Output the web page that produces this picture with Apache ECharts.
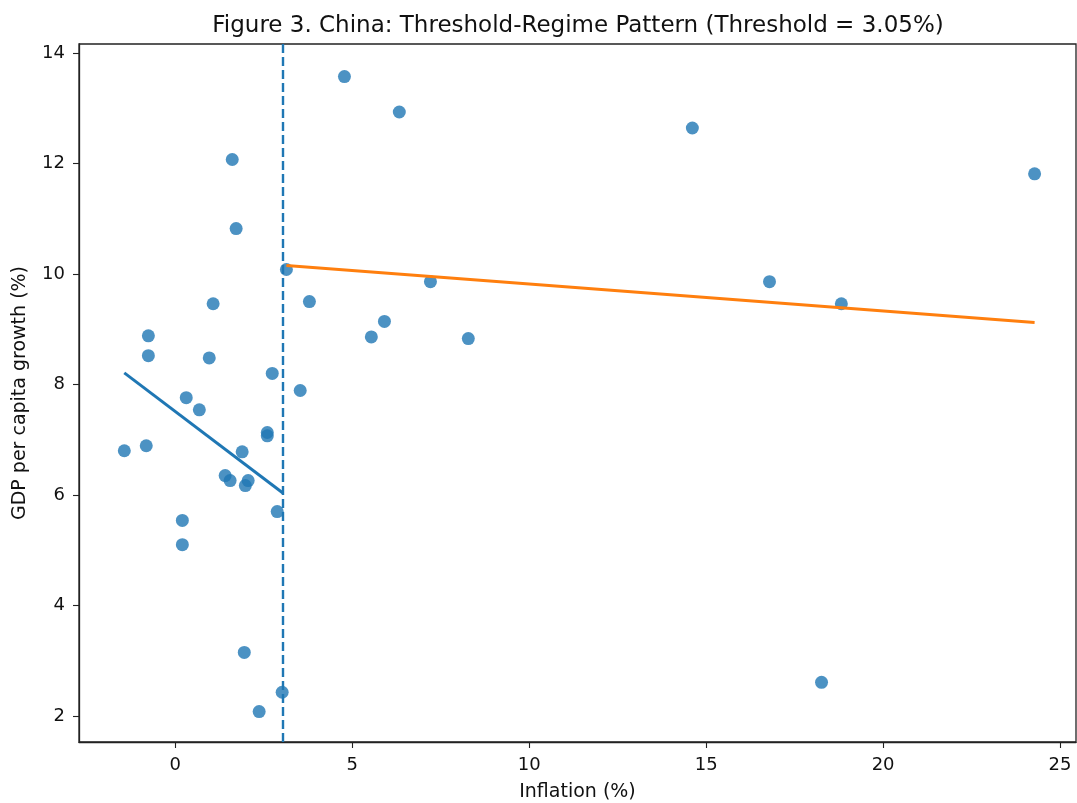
<!DOCTYPE html>
<html>
<head>
<meta charset="utf-8">
<script src="https://cdn.jsdelivr.net/npm/echarts@6/dist/echarts.min.js"></script>
<style>html,body{margin:0;padding:0;background:#fff;}#c{width:1077px;height:803px;}</style>
</head>
<body>
<div id="c"></div>
<script>
const inflation = [-1.44,-0.82,-0.76,-0.76,0.20,0.20,0.31,0.68,0.96,1.07,1.41,1.55,1.61,1.72,1.89,1.98,2.06,1.95,2.37,2.60,2.60,2.74,2.88,3.02,3.14,3.53,3.79,4.78,5.54,5.91,6.33,7.21,8.28,14.61,16.79,18.26,18.82,24.28];
const growth = [6.80,6.89,8.88,8.52,5.10,5.54,7.76,7.54,8.48,9.46,6.35,6.26,12.07,10.82,6.78,6.17,6.26,3.15,2.08,7.13,7.07,8.20,5.70,2.43,10.08,7.89,9.50,13.57,8.86,9.14,12.93,9.86,8.83,12.64,9.86,2.61,9.46,11.81];
const lowFitX = [-1.44, 3.05];
const lowFitY = [8.21, 6.03];
const highFitX = [3.14, 24.28];
const highFitY = [10.15, 9.12];
const threshold = 3.05;
const xTicks = [0,5,10,15,20,25];
const yTicks = [2,4,6,8,10,12,14];
const titleText = 'Figure 3. China: Threshold-Regime Pattern (Threshold = 3.05%)';

const font = 'DejaVu Sans';
const chart = echarts.init(document.getElementById('c'), null, {renderer:'canvas'});
const axisCommon = {
  axisLine:{show:true, onZero:false, lineStyle:{color:'#222', width:1.3}},
  axisTick:{show:true, inside:false, length:6, lineStyle:{color:'#222', width:1.1}},
  axisLabel:{color:'#111', fontFamily:font, fontSize:18},
  splitLine:{show:false},
  nameTextStyle:{color:'#111', fontFamily:font, fontSize:19}
};
chart.setOption({
  animation:false,
  backgroundColor:'#fff',
  graphic:[{type:'text', x:578, y:15, style:{text:titleText, textAlign:'center', textVerticalAlign:'top',
    font:'23px "DejaVu Sans"', fill:'#111'}}],
  grid:{left:79, right:1, top:44, bottom:61, show:true, borderColor:'#222', borderWidth:1.3, outerBoundsMode:'none', containLabel:false},
  xAxis:Object.assign({}, axisCommon, {
    type:'value', min:-2.72, max:25.45, name:'Inflation (%)', nameLocation:'middle', nameGap:41,
    axisTick:Object.assign({}, axisCommon.axisTick, {customValues:xTicks}),
    axisLabel:Object.assign({}, axisCommon.axisLabel, {customValues:xTicks, margin:14})
  }),
  yAxis:Object.assign({}, axisCommon, {
    type:'value', min:1.53, max:14.16, name:'GDP per capita growth (%)', nameLocation:'middle', nameGap:49,
    axisTick:Object.assign({}, axisCommon.axisTick, {customValues:yTicks}),
    axisLabel:Object.assign({}, axisCommon.axisLabel, {customValues:yTicks, margin:14})
  }),
  series:[
    {type:'scatter', data:inflation.map((x,i)=>[x,growth[i]]), symbolSize:13,
      itemStyle:{color:'#1f77b4', opacity:0.8}, z:2},
    {type:'line', data:lowFitX.map((x,i)=>[x,lowFitY[i]]), symbol:'none',
      lineStyle:{color:'#1f77b4', width:3}, z:3},
    {type:'line', data:highFitX.map((x,i)=>[x,highFitY[i]]), symbol:'none',
      lineStyle:{color:'#ff7f0e', width:3}, z:3,
      markLine:{symbol:'none', silent:true, label:{show:false},
        lineStyle:{color:'#1f77b4', width:2.4, type:[9,4]},
        data:[{xAxis:threshold}]}}
  ]
});
</script>
</body>
</html>
